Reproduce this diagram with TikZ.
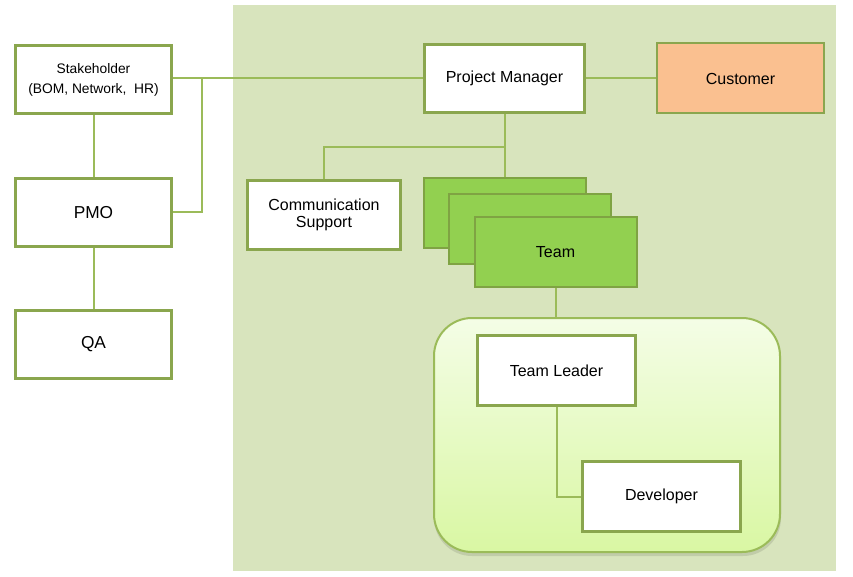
\documentclass[tikz,border=0pt]{standalone}
\usepackage{fontspec}
\setmainfont{Liberation Sans}
\usetikzlibrary{calc}
\definecolor{panel}{HTML}{D8E4BD}
\definecolor{bord}{HTML}{8AA64E}
\definecolor{conn}{HTML}{9BBB59}
\definecolor{teamfill}{HTML}{92D050}
\definecolor{teambord}{HTML}{7FA343}
\definecolor{custfill}{HTML}{FAC090}
\definecolor{roundtop}{HTML}{F4FDE6}
\definecolor{roundbot}{HTML}{D9F7A3}
\tikzset{
  wbox/.style={draw=bord, line width=3pt, fill=white, inner sep=0pt, align=center,
    font=\fontsize{16}{17.5}\selectfont},
  tbox/.style={draw=teambord, line width=2pt, fill=teamfill, inner sep=0pt,
    minimum width=162pt, minimum height=70pt, font=\fontsize{16}{17.5}\selectfont},
  cline/.style={draw=conn, line width=2pt},
}
\begin{document}
\begin{tikzpicture}[x=1pt,y=-1pt]
\useasboundingbox (0,0) rectangle (853,577);
\fill[white] (0,0) rectangle (853,577);
\fill[panel] (233,5) rectangle (836,571);

% nodes
\node[wbox, minimum width=156pt, minimum height=68pt, font=\fontsize{13.8}{20}\selectfont] (stake) at (93.5,79.5) {Stakeholder\\(BOM, Network,~ HR)};
\node[wbox, minimum width=156pt, minimum height=68pt, font=\fontsize{17.3}{20}\selectfont] (pmo) at (93.5,212.5) {PMO};
\node[wbox, minimum width=156pt, minimum height=68pt, font=\fontsize{17.3}{20}\selectfont] (qa) at (93.5,344.5) {QA};
\node[wbox, minimum width=160pt, minimum height=68pt] (pm) at (504.5,78.5) {Project Manager};
\node[wbox, draw=bord, line width=2pt, fill=custfill, minimum width=167pt, minimum height=70pt] (cust) at (740.5,78.5) {Customer};
\node[wbox, minimum width=153pt, minimum height=69pt] (comm) at (324,215) {Communication\\Support};
\node[tbox] (t1) at (505,213) {};
\node[tbox] (t2) at (529.5,229) {};
\node[tbox] (t3) at (555.5,252) {Team};

% rounded team container
\fill[black, opacity=0.10, rounded corners=38pt] (434,320) rectangle (781,556);
\node[draw=conn, line width=2pt, rounded corners=38pt, top color=roundtop, bottom color=roundbot,
  minimum width=346pt, minimum height=234pt, inner sep=0pt] (grp) at (607,435) {};
\node[wbox, minimum width=158pt, minimum height=70pt] (tl) at (556.5,370.5) {Team Leader};
\node[wbox, minimum width=158pt, minimum height=70pt] (dev) at (661.5,496.5) {Developer};

% connectors
\coordinate (j1) at (202,78.5);
\coordinate (j2) at (504.5,147);
\draw[cline] (stake.east |- j1) -- (pm.west);
\draw[cline] (pmo.east) -| (j1);
\draw[cline] (stake.south) -- (pmo.north);
\draw[cline] (pmo.south) -- (qa.north);
\draw[cline] (pm.east) -- (cust.west);
\draw[cline] (pm.south) -- (pm.south |- t1.north);
\draw[cline] (j2) -| (comm.north);
\draw[cline] (t3.south) -- (t3.south |- grp.north);
\draw[cline] (tl.south) |- (dev.west);
\end{tikzpicture}
\end{document}
